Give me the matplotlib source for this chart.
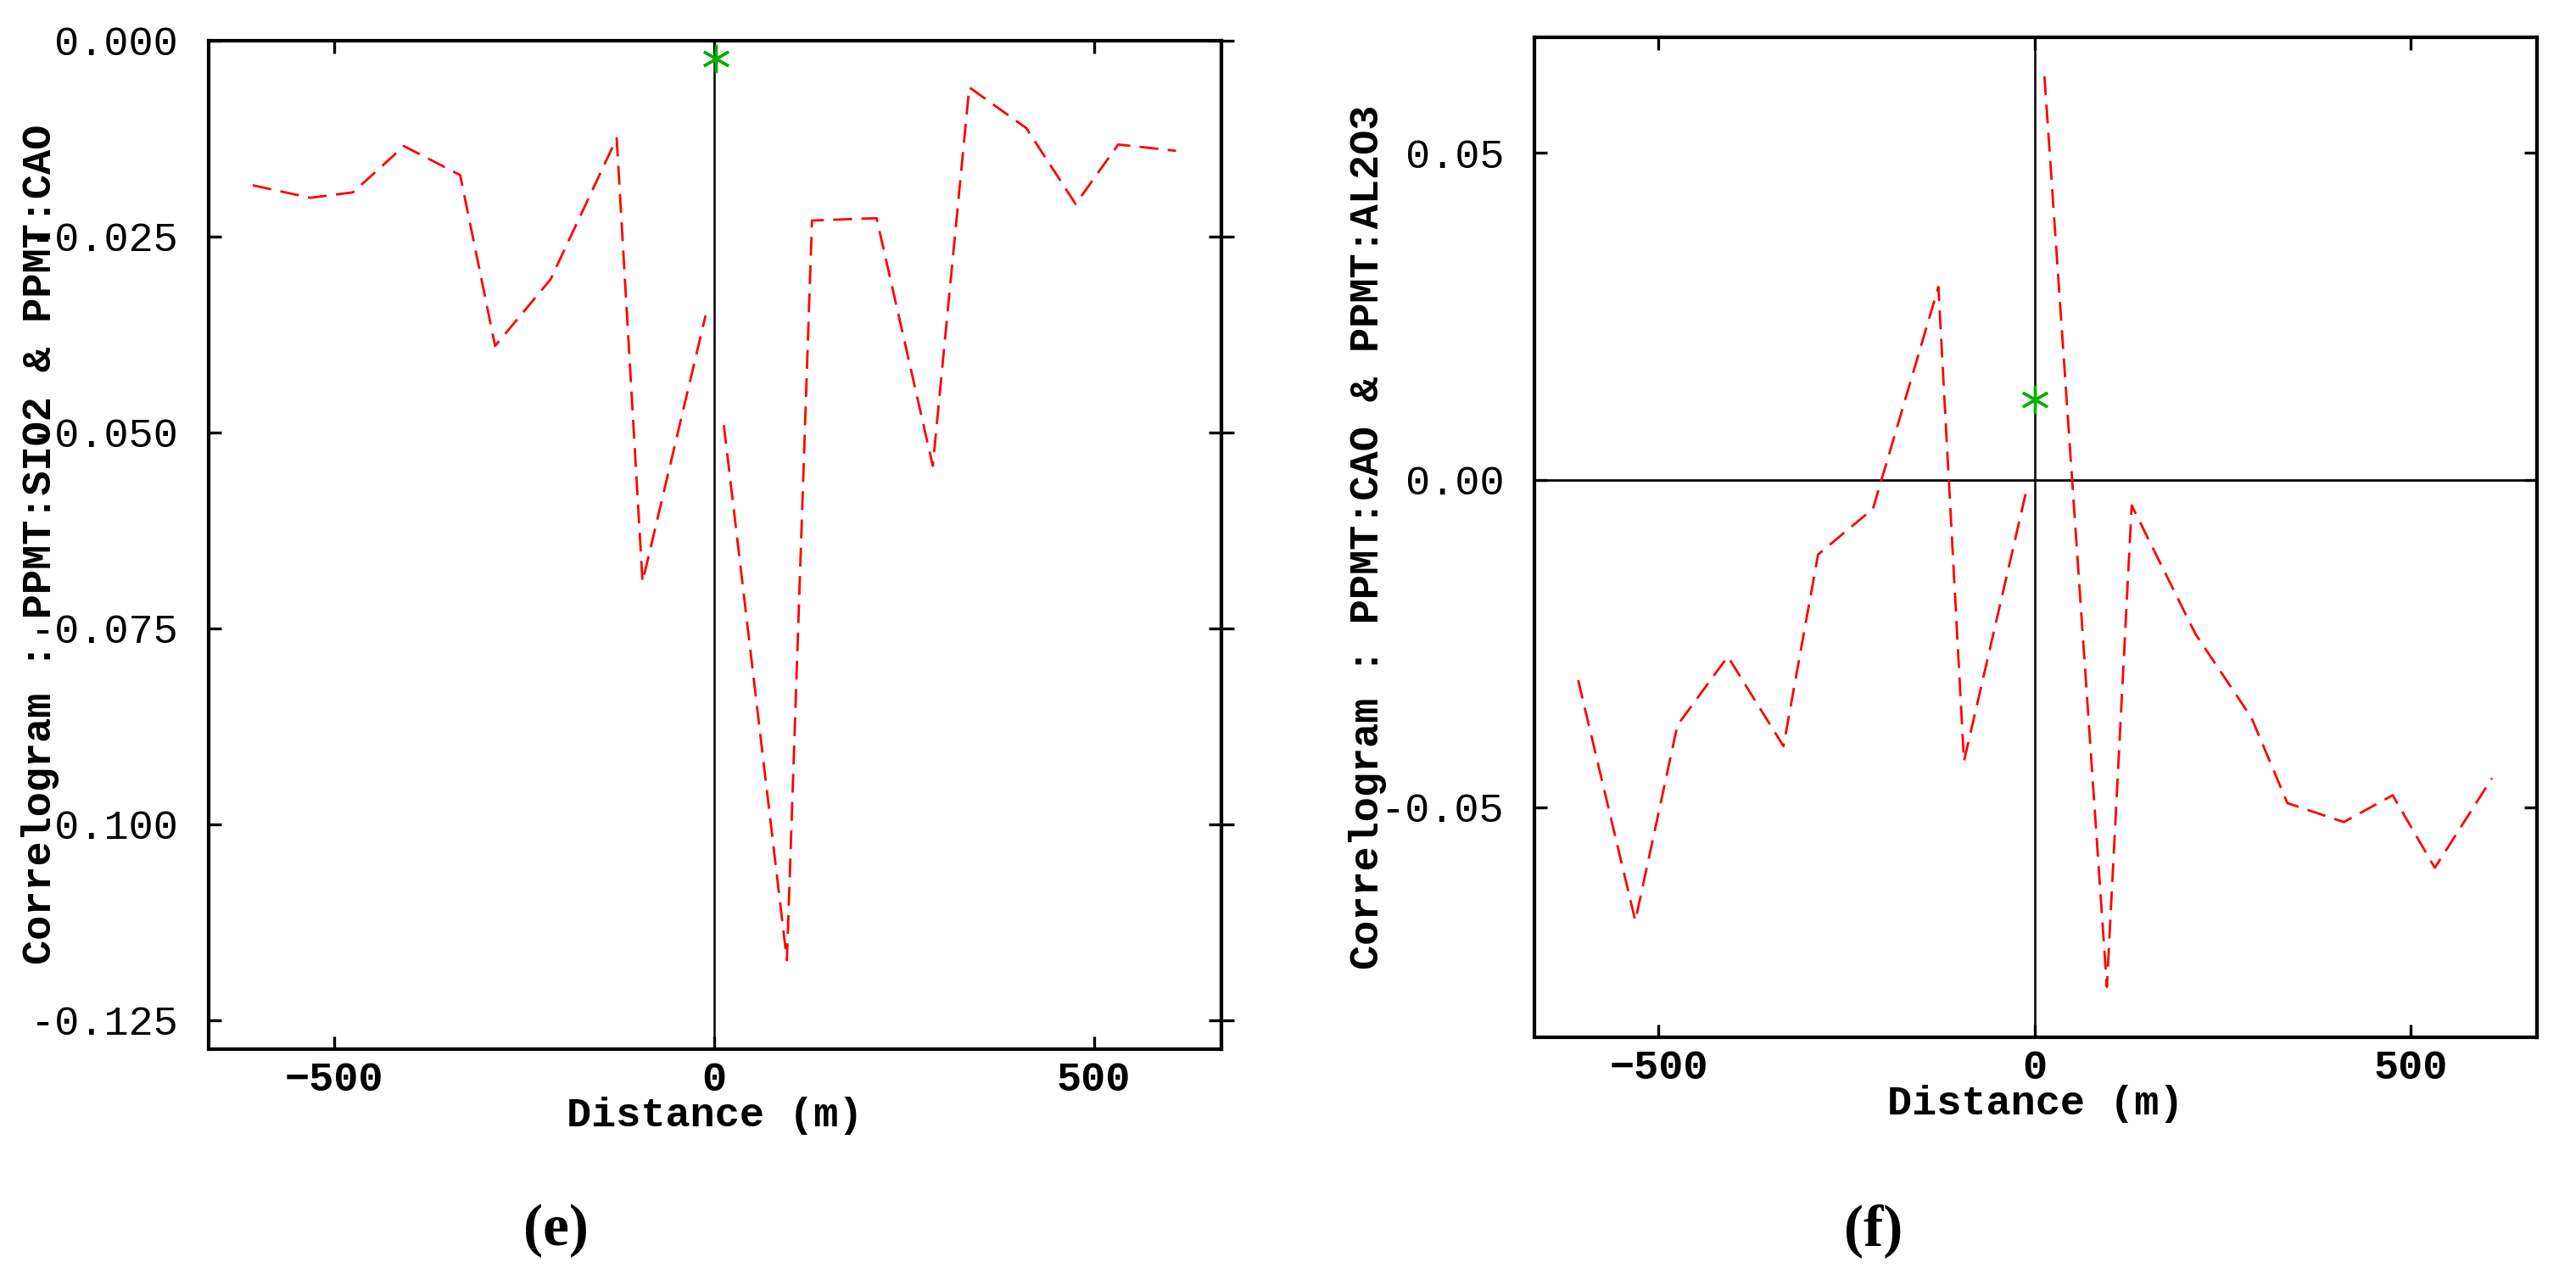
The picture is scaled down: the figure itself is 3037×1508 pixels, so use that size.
import matplotlib
matplotlib.use("Agg")
import matplotlib.pyplot as plt
from matplotlib.ticker import FormatStrFormatter

plt.rcParams['lines.scale_dashes'] = False

# lag distances (m), negative and positive sides
dist_neg = [-607, -531, -475, -408, -334, -288, -215, -128, -94, -11]
dist_pos = [13, 96, 129, 214, 288, 336, 411, 476, 532, 608]

# (e) PPMT:SIO2 & PPMT:CAO
e_neg = [-0.0185, -0.0201, -0.0194, -0.0135, -0.0172, -0.0390, -0.0305, -0.0125, -0.0691, -0.0351]
e_pos = [-0.0491, -0.1174, -0.0230, -0.0227, -0.0543, -0.0060, -0.0112, -0.0209, -0.0133, -0.0141]
e_zero = (2, -0.0023)

# (f) PPMT:CAO & PPMT:AL2O3
f_neg = [-0.0306, -0.0674, -0.0375, -0.0270, -0.0407, -0.0114, -0.0044, 0.0295, -0.0430, -0.0016]
f_pos = [0.0617, -0.0775, -0.0039, -0.0236, -0.0363, -0.0494, -0.0523, -0.0482, -0.0593, -0.0456]
f_zero = (0, 0.0123)

xticks = [-500, 0, 500]
e_yticks = [0.0, -0.025, -0.05, -0.075, -0.1, -0.125]
f_yticks = [0.05, 0.0, -0.05]

MONO = 'Liberation Mono'
FS = 17.5

fig = plt.figure(figsize=(15.185, 7.54), dpi=200)
ax_e = fig.add_axes([0.0810, 0.1799, 0.3932, 0.7886])
ax_f = fig.add_axes([0.5957, 0.1890, 0.3892, 0.7820])


def draw(ax, neg, pos, zero, yticks, ylim, fmt, ylabel, hline, rdir):
    ax.axvline(0, color='black', lw=0.9, zorder=1)
    if hline:
        ax.axhline(0, color='black', lw=1.0, zorder=1)
    for d, v in ((dist_neg, neg), (dist_pos, pos)):
        ax.plot(d, v, color='#ff0000', lw=1.0, linestyle=(0, (8, 4)), zorder=3)
    ax.plot([zero[0]], [zero[1]], marker=(6, 2, 0), color='#00b000',
            markersize=12, markeredgewidth=1.2, linestyle='none', zorder=4)
    ax.set_xlim(-665, 668)
    ax.set_ylim(*ylim)
    ax.set_xticks(xticks)
    ax.set_yticks(yticks)
    ax.yaxis.set_major_formatter(FormatStrFormatter(fmt))
    for s in ax.spines.values():
        s.set_linewidth(1.5)
    ax.tick_params(axis='x', direction='in', top=True, length=5.4, width=1.2, pad=5)
    ax.tick_params(axis='y', direction='in', right=False, length=5.4, width=1.2, pad=13)
    for lbl in ax.get_xticklabels():
        lbl.set_fontfamily(MONO)
        lbl.set_fontweight('bold')
        lbl.set_fontsize(FS)
    for lbl in ax.get_yticklabels():
        lbl.set_fontfamily(MONO)
        lbl.set_fontsize(FS)
    sec = ax.secondary_yaxis('right')
    sec.set_yticks(yticks)
    sec.tick_params(direction=rdir, length=11 if rdir == 'inout' else 5.4,
                    width=1.2, labelright=False)
    sec.spines['right'].set_linewidth(1.5)
    ax.set_xlabel('Distance (m)', fontfamily=MONO, fontweight='bold',
                  fontsize=FS, labelpad=-1)
    ax.set_ylabel(ylabel, fontfamily=MONO, fontweight='bold', fontsize=FS,
                  va='center', ha='center')
    ax.yaxis.set_label_coords(-0.166, 0.5)


draw(ax_e, e_neg, e_pos, e_zero, e_yticks, (-0.1287, 0.0), '%.3f',
     'Correlogram : PPMT:SIO2 & PPMT:CAO', False, 'inout')
draw(ax_f, f_neg, f_pos, f_zero, f_yticks, (-0.0852, 0.0677), '%.2f',
     'Correlogram : PPMT:CAO & PPMT:AL2O3', True, 'in')

fig.text(0.2157, 0.0378, '(e)', fontfamily='Liberation Serif', fontweight='bold',
         fontsize=25, ha='center', va='center')
fig.text(0.7274, 0.0378, '(f)', fontfamily='Liberation Serif', fontweight='bold',
         fontsize=25, ha='center', va='center')

fig.savefig('out.png', dpi=200)
